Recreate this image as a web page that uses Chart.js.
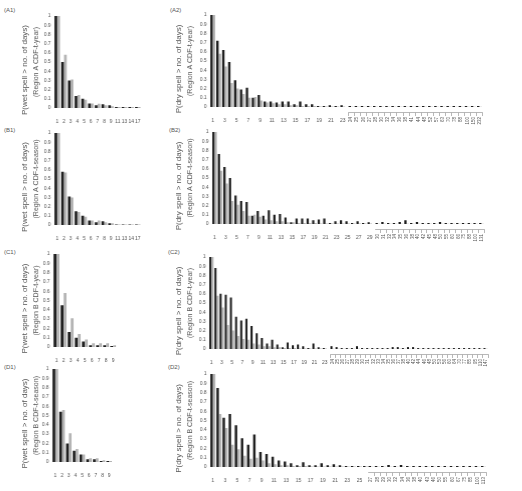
<!DOCTYPE html>
<html>
<head>
<meta charset="utf-8">
<script src="https://cdn.jsdelivr.net/npm/chart.js@4.4.1/dist/chart.umd.min.js"></script>
<style>
  body { margin:0; background:#fff; width:522px; height:491px; position:relative; overflow:hidden;
         font-family:"Liberation Sans", Arial, sans-serif; }
  .box { position:absolute; }
  .tag { position:absolute; font-size:6px; color:#555; }
</style>
</head>
<body>
<div class="tag" style="left:4px;top:7px">(A1)</div>
<div class="tag" style="left:170px;top:7px">(A2)</div>
<div class="tag" style="left:4px;top:127px">(B1)</div>
<div class="tag" style="left:169px;top:127px">(B2)</div>
<div class="tag" style="left:4px;top:249px">(C1)</div>
<div class="tag" style="left:168px;top:249px">(C2)</div>
<div class="tag" style="left:4px;top:364px">(D1)</div>
<div class="tag" style="left:168px;top:364px">(D2)</div>

<script>
// ============================
// DATA  (black = observed, grey = CDF-t)
// ============================
const a1Days = [1,2,3,4,5,6,7,8,9,11,13,14,17];
const a1Obs  = [1,0.50,0.30,0.13,0.10,0.05,0.03,0.04,0.03,0.01,0.01,0.01,0.01];
const a1Cdft = [1,0.58,0.31,0.14,0.09,0.05,0.045,0.03,0.02,0.01,0.01,0.01,0.01];

const b1Days = [1,2,3,4,5,6,7,8,9,11,13,14,17];
const b1Obs  = [1,0.58,0.31,0.15,0.10,0.05,0.03,0.04,0.02,0.005,0.005,0.005,0.005];
const b1Cdft = [1,0.57,0.30,0.14,0.09,0.05,0.05,0.03,0.02,0.005,0.005,0.005,0.005];

const c1Days = [1,2,3,4,5,6,7,8,9];
const c1Obs  = [1,0.45,0.16,0.10,0.06,0.02,0.02,0.02,0.01];
const c1Cdft = [1,0.58,0.31,0.14,0.08,0.04,0.04,0.04,0.02];

const d1Days = [1,2,3,4,5,6,7,8,9];
const d1Obs  = [1,0.54,0.20,0.12,0.08,0.03,0.03,0.01,0.01];
const d1Cdft = [1,0.56,0.31,0.14,0.08,0.04,0.04,0.02,0.01];

// dry spells: short durations (horizontal labels) and long tail (rotated labels)
const a2Days  = [1,2,3,4,5,6,7,8,9,10,11,12,13,14,15,16,17,18,19,20,21,22,23];
const a2Obs   = [1,0.72,0.62,0.49,0.29,0.19,0.21,0.10,0.13,0.06,0.06,0.05,0.06,0.06,0.03,0.06,0.03,0.03,0.01,0.01,0.02,0.01,0.02];
const a2Cdft  = [1,0.58,0.44,0.26,0.20,0.14,0.10,0.11,0.07,0.05,0.04,0.03,0.03,0.02,0.02,0.01,0.01,0.01,0.005,0.005,0.005,0.005,0.005];
const a2TailDays = [24,25,26,27,28,30,32,34,36,38,41,44,48,52,57,63,70,78,88,100,150,232];
const a2TailObs  = [0.01,0.01,0.01,0.01,0.01,0.01,0.01,0.01,0.01,0.01,0.01,0.01,0.01,0.01,0.01,0.01,0.01,0.01,0.01,0.01,0.01,0.01];
const a2TailCdft = [0.003,0.003,0.003,0.003,0.003,0.003,0.003,0.003,0.003,0.003,0.003,0.003,0.003,0.003,0.003,0.003,0.003,0.003,0.003,0.003,0.003,0.003];

const b2Days  = [1,2,3,4,5,6,7,8,9,10,11,12,13,14,15,16,17,18,19,20,21,22,23,24,25,26,27,28,29];
const b2Obs   = [1,0.76,0.62,0.50,0.31,0.25,0.24,0.09,0.14,0.09,0.15,0.10,0.11,0.07,0.02,0.06,0.06,0.06,0.04,0.05,0.06,0.01,0.03,0.04,0.03,0.01,0.03,0.01,0.02];
const b2Cdft  = [1,0.58,0.44,0.25,0.21,0.14,0.09,0.10,0.08,0.05,0.04,0.03,0.03,0.02,0.02,0.01,0.01,0.01,0.01,0.005,0.005,0.005,0.005,0.005,0.005,0.005,0.005,0.005,0.005];
const b2TailDays = [30,31,32,34,35,36,38,40,42,45,48,50,55,60,66,75,88,100,131];
const b2TailObs  = [0.01,0.02,0.01,0.01,0.02,0.04,0.01,0.02,0.01,0.01,0.01,0.02,0.01,0.01,0.01,0.01,0.01,0.01,0.01];
const b2TailCdft = [0.003,0.003,0.003,0.003,0.003,0.003,0.003,0.003,0.003,0.003,0.003,0.003,0.003,0.003,0.003,0.003,0.003,0.003,0.003];

const c2Days  = [1,2,3,4,5,6,7,8,9,10,11,12,13,14,15,16,17,18,19,20,21,22,23];
const c2Obs   = [1,0.88,0.60,0.59,0.56,0.35,0.31,0.33,0.25,0.17,0.12,0.06,0.10,0.05,0.02,0.07,0.04,0.05,0.03,0.01,0.06,0.02,0.01];
const c2Cdft  = [1,0.58,0.45,0.26,0.20,0.14,0.11,0.10,0.06,0.05,0.03,0.03,0.02,0.02,0.01,0.01,0.01,0.005,0.005,0.005,0.005,0.005,0.005];
const c2TailDays = [24,25,26,27,28,29,30,31,32,33,34,35,36,37,38,40,42,44,46,48,50,53,56,60,64,70,77,85,95,110,147];
const c2TailObs  = [0.03,0.02,0.01,0.01,0.01,0.03,0.01,0.01,0.01,0.01,0.01,0.01,0.02,0.02,0.01,0.02,0.02,0.01,0.01,0.01,0.01,0.01,0.01,0.01,0.01,0.01,0.01,0.01,0.01,0.01,0.01];
const c2TailCdft = [0.003,0.003,0.003,0.003,0.003,0.003,0.003,0.003,0.003,0.003,0.003,0.003,0.003,0.003,0.003,0.003,0.003,0.003,0.003,0.003,0.003,0.003,0.003,0.003,0.003,0.003,0.003,0.003,0.003,0.003,0.003];

const d2Days  = [1,2,3,4,5,6,7,8,9,10,11,12,13,14,15,16,17,18,19,20,21,22,23,24,25,26];
const d2Obs   = [1,0.85,0.53,0.57,0.45,0.31,0.24,0.35,0.16,0.14,0.11,0.07,0.06,0.04,0.02,0.05,0.02,0.02,0.04,0.02,0.03,0.02,0.01,0.01,0.01,0.01];
const d2Cdft  = [1,0.57,0.42,0.24,0.19,0.12,0.09,0.10,0.07,0.04,0.03,0.02,0.02,0.01,0.01,0.01,0.005,0.005,0.005,0.005,0.005,0.005,0.005,0.005,0.005,0.005];
const d2TailDays = [27,28,29,30,32,34,36,38,40,43,46,50,55,60,67,75,85,100,113];
const d2TailObs  = [0.01,0.01,0.01,0.02,0.01,0.02,0.01,0.01,0.01,0.01,0.01,0.01,0.01,0.01,0.01,0.01,0.01,0.01,0.01];
const d2TailCdft = [0.003,0.003,0.003,0.003,0.003,0.003,0.003,0.003,0.003,0.003,0.003,0.003,0.003,0.003,0.003,0.003,0.003,0.003,0.003];

const yTicks = [0,0.1,0.2,0.3,0.4,0.5,0.6,0.7,0.8,0.9,1];

// ============================
// STYLE
// ============================
const INK  = "#1e1e1e";
const GREY = "#b4b4b4";
const TXT  = "#555";
Chart.defaults.font.family = '"Liberation Sans", Arial, sans-serif';
Chart.defaults.font.size = 5;
Chart.defaults.color = TXT;
Chart.defaults.animation = false;

const PAD_TOP = 4;
const X_H = 18;        // fixed height of x axis area
const GAP = 5;         // drop of the bracket axis below the baseline
const TITLE_W = 9.6;   // left title box (8px * 1.2)

function makeCanvas(l, t, w, h){
  const d = document.createElement("div");
  d.className = "box";
  d.style.cssText = `left:${l}px;top:${t}px;width:${w}px;height:${h}px`;
  const c = document.createElement("canvas");
  d.appendChild(c);
  document.body.appendChild(d);
  return c;
}

function datasets(obs, cdft){
  return [
    { data: obs,  backgroundColor: INK,  categoryPercentage: 0.84, barPercentage: 0.96 },
    { data: cdft, backgroundColor: GREY, categoryPercentage: 0.84, barPercentage: 0.96 }
  ];
}

// main panel: y axis + titles + first block of categories
// area = chart area {l,t,r,b}; yw = y axis box width
function mainChart(area, yw, days, obs, cdft, line1, line2, oddOnly){
  const x0 = area.l - yw - TITLE_W;
  const y0 = area.t - PAD_TOP;
  const canvas = makeCanvas(x0, y0, area.r - x0, area.b - area.t + PAD_TOP + X_H);
  return new Chart(canvas, {
    type: "bar",
    data: { labels: days, datasets: datasets(obs, cdft) },
    options: {
      responsive: true,
      maintainAspectRatio: false,
      layout: { padding: { top: PAD_TOP, left: 0, right: 0, bottom: 0 } },
      plugins: {
        legend: { display: false },
        tooltip: { enabled: false },
        title: { display: true, text: line1, position: "left", font: { size: 8, weight: "normal" },
                 color: TXT, padding: 0 }
      },
      scales: {
        x: {
          grid: { display: false },
          border: { display: false },
          ticks: {
            autoSkip: false, maxRotation: 0, minRotation: 0, padding: 3,
            callback: function(v){
              const n = this.getLabelForValue(v);
              return (!oddOnly || n % 2 === 1) ? n : "";
            }
          },
          afterFit: s => { s.height = X_H; }
        },
        y: {
          min: 0, max: 1,
          afterBuildTicks: s => { s.ticks = yTicks.map(v => ({ value: v })); },
          grid: { display: false, drawTicks: false },
          border: { display: false },
          ticks: { padding: 3, callback: v => String(+v.toFixed(1)) },
          title: { display: true, text: line2, font: { size: 7 }, color: TXT, padding: { top: 2, bottom: 0 } },
          afterFit: s => { s.width = yw; }
        }
      }
    }
  });
}

// tail block of long dry spells, drawn right of the axis break
// the bars sit on "x"; "x2" carries the bracket and the rotated labels a little lower
function tailChart(area, days, obs, cdft){
  const canvas = makeCanvas(area.l, area.t - PAD_TOP, area.r - area.l + 2, area.b - area.t + PAD_TOP + X_H);
  return new Chart(canvas, {
    type: "bar",
    data: { labels: days, datasets: datasets(obs, cdft) },
    options: {
      responsive: true,
      maintainAspectRatio: false,
      layout: { padding: { top: PAD_TOP, left: 0, right: 2, bottom: 0 } },
      plugins: { legend: { display: false }, tooltip: { enabled: false } },
      scales: {
        x: {
          weight: 0,
          grid: { display: false },
          border: { display: false },
          ticks: { display: false },
          afterFit: s => { s.height = GAP; }
        },
        x2: {
          type: "category",
          position: "bottom",
          weight: 1,
          offset: true,
          grid: { display: true, drawOnChartArea: false, drawTicks: true, tickLength: 4,
                  color: "#888", lineWidth: 0.6, offset: true },
          border: { display: true, color: "#888", width: 0.6 },
          ticks: { autoSkip: false, maxRotation: 90, minRotation: 90, padding: 1, font: { size: 4.5 } },
          afterFit: s => { s.height = X_H - GAP; }
        },
        y: { display: false, min: 0, max: 1 }
      }
    }
  });
}

// ============================
// LEFT COLUMN: wet spells
// ============================
mainChart({l:54, t:14,  r:143, b:108}, 24, a1Days, a1Obs, a1Cdft,
  "P(wet spell > no. of days)", "(Region A CDF-t-year)", false);
mainChart({l:54, t:131, r:143, b:225}, 24, b1Days, b1Obs, b1Cdft,
  "P(wet spell > no. of days)", "(Region A CDF-t-season)", false);
mainChart({l:53, t:252, r:117, b:347}, 23, c1Days, c1Obs, c1Cdft,
  "P(wet spell > no. of days)", "(Region B CDF-t-year)", false);
mainChart({l:52, t:367, r:113, b:462}, 22, d1Days, d1Obs, d1Cdft,
  "P(wet spell > no. of days)", "(Region B CDF-t-season)", false);

// ============================
// RIGHT COLUMN: dry spells
// ============================
mainChart({l:210, t:13,  r:348, b:107}, 26, a2Days, a2Obs, a2Cdft,
  "P(dry spell > no. of days)", "(Region A CDF-t-year)", true);
tailChart({l:348, t:13,  r:484, b:107}, a2TailDays, a2TailObs, a2TailCdft);

mainChart({l:212, t:130, r:375, b:224}, 28, b2Days, b2Obs, b2Cdft,
  "P(dry spell > no. of days)", "(Region A CDF-t-season)", true);
tailChart({l:375, t:130, r:486, b:224}, b2TailDays, b2TailObs, b2TailCdft);

mainChart({l:209, t:255, r:330, b:349}, 25, c2Days, c2Obs, c2Cdft,
  "P(dry spell > no. of days)", "(Region B CDF-t-year)", true);
tailChart({l:330, t:255, r:490, b:349}, c2TailDays, c2TailObs, c2TailCdft);

mainChart({l:210, t:372, r:368, b:467}, 26, d2Days, d2Obs, d2Cdft,
  "P(dry spell > no. of days)", "(Region B CDF-t-season)", true);
tailChart({l:368, t:372, r:488, b:467}, d2TailDays, d2TailObs, d2TailCdft);
</script>
</body>
</html>
